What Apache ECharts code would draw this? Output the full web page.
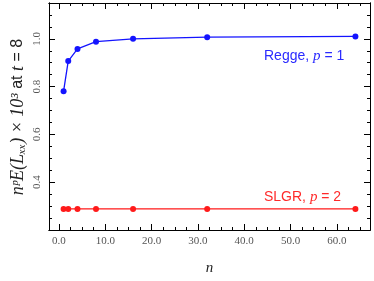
<!DOCTYPE html>
<html>
<head>
<meta charset="utf-8">
<script src="https://cdn.jsdelivr.net/npm/echarts@6/dist/echarts.min.js"></script>
<style>html,body{margin:0;padding:0;background:#fff}#c{width:374px;height:281px}</style>
</head>
<body>
<div id="c"></div>
<script>
var nValues = [1, 2, 4, 8, 16, 32, 64];
var reggeValues = [0.781, 0.907, 0.958, 0.988, 1.000, 1.007, 1.010];
var slgrValues = [0.288, 0.288, 0.288, 0.288, 0.288, 0.288, 0.288];
var xMajorTicks = [0, 10, 20, 30, 40, 50, 60];
var xMinorTicks = [0, 2.5, 5, 7.5, 10, 12.5, 15, 17.5, 20, 22.5, 25, 27.5, 30, 32.5, 35, 37.5, 40, 42.5, 45, 47.5, 50, 52.5, 55, 57.5, 60, 62.5, 65];
var yMajorTicks = [0.4, 0.6, 0.8, 1.0];
var yMinorTicks = [0.25, 0.3, 0.35, 0.4, 0.45, 0.5, 0.55, 0.6, 0.65, 0.7, 0.75, 0.8, 0.85, 0.9, 0.95, 1.0, 1.05, 1.1];

var X_MIN = -2.15, X_MAX = 67.15, Y_MIN = 0.2, Y_MAX = 1.15;
var serif = '"Liberation Serif", "DejaVu Serif", serif';
var sans = '"Liberation Sans", "DejaVu Sans", sans-serif';

function mkX(pos, major, withLabels) {
  return {
    type: 'value', position: pos, min: X_MIN, max: X_MAX,
    axisLine: { show: true, onZero: false, lineStyle: { color: '#000', width: 1 } },
    axisTick: { show: true, inside: true, length: major ? 6 : 3, customValues: major ? xMajorTicks : xMinorTicks, lineStyle: { color: '#000', width: 1 } },
    axisLabel: withLabels ? { show: true, customValues: xMajorTicks, margin: 6, color: '#555', fontFamily: serif, fontSize: 11, formatter: function (v) { return v.toFixed(1); } } : { show: false },
    splitLine: { show: false },
    name: withLabels ? 'n' : '',
    nameLocation: 'middle', nameGap: 31,
    nameTextStyle: { fontFamily: serif, fontStyle: 'italic', fontSize: 15, color: '#222' }
  };
}
function mkY(pos, major, withLabels) {
  return {
    type: 'value', position: pos, min: Y_MIN, max: Y_MAX,
    axisLine: { show: true, onZero: false, lineStyle: { color: '#000', width: 1 } },
    axisTick: { show: true, inside: true, length: major ? 6 : 3, customValues: major ? yMajorTicks : yMinorTicks, lineStyle: { color: '#000', width: 1 } },
    axisLabel: withLabels ? { show: true, customValues: yMajorTicks, rotate: 90, margin: 6, color: '#555', fontFamily: serif, fontSize: 11, formatter: function (v) { return v.toFixed(1); } } : { show: false },
    splitLine: { show: false }
  };
}

var chart = echarts.init(document.getElementById('c'), null, { renderer: 'canvas' });
chart.setOption({
  animation: false,
  backgroundColor: '#fff',
  grid: { left: 49, right: 4, top: 3, bottom: 43, containLabel: false },
  xAxis: [mkX('bottom', true, true), mkX('bottom', false, false), mkX('top', true, false), mkX('top', false, false)],
  yAxis: [mkY('left', true, true), mkY('left', false, false), mkY('right', true, false), mkY('right', false, false)],
  series: [
    {
      name: 'Regge', type: 'line', xAxisIndex: 0, yAxisIndex: 0,
      data: nValues.map(function (n, i) { return [n, reggeValues[i]]; }),
      symbol: 'circle', symbolSize: 6,
      lineStyle: { color: '#1414ff', width: 1.3 }, itemStyle: { color: '#1414ff' }
    },
    {
      name: 'SLGR', type: 'line', xAxisIndex: 0, yAxisIndex: 0,
      data: nValues.map(function (n, i) { return [n, slgrValues[i]]; }),
      symbol: 'circle', symbolSize: 6,
      lineStyle: { color: '#ff1a1a', width: 1.3 }, itemStyle: { color: '#ff1a1a' }
    }
  ],
  graphic: [
    {
      type: 'text', x: 18, y: 117, rotation: Math.PI / 2,
      style: {
        text: '{m|n}{s|ᵖ}{m|E(L}{s|ₓₓ}{m|) × 10³ }{t|at }{m|t}{t| = 8}',
        align: 'center', verticalAlign: 'middle',
        rich: {
          m: { fontFamily: serif, fontStyle: 'italic', fontSize: 18, fill: '#222' },
          s: { fontFamily: serif, fontStyle: 'italic', fontSize: 18, fill: '#222' },
          t: { fontFamily: sans, fontSize: 16, fill: '#222' }
        }
      }
    },
    {
      type: 'text', left: 264, top: 49,
      style: {
        text: '{a|Regge, }{b|p}{a| = 1}',
        rich: {
          a: { fontFamily: sans, fontSize: 14, fill: '#2a2aff' },
          b: { fontFamily: serif, fontStyle: 'italic', fontSize: 15, fill: '#2a2aff' }
        }
      }
    },
    {
      type: 'text', left: 264, top: 190,
      style: {
        text: '{a|SLGR, }{b|p}{a| = 2}',
        rich: {
          a: { fontFamily: sans, fontSize: 14, fill: '#ff2a2a' },
          b: { fontFamily: serif, fontStyle: 'italic', fontSize: 15, fill: '#ff2a2a' }
        }
      }
    }
  ]
});
</script>
</body>
</html>
